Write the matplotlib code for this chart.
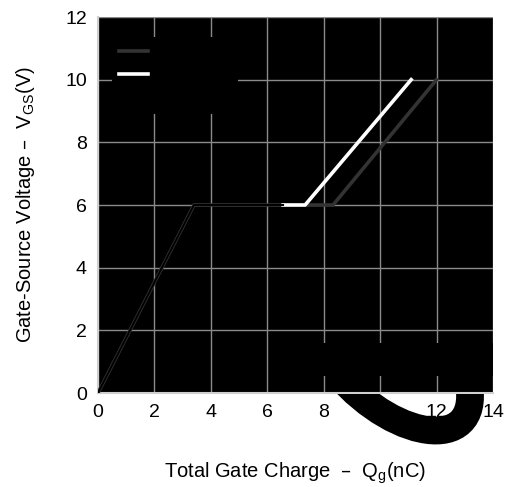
import matplotlib
matplotlib.use("Agg")
import matplotlib.pyplot as plt
from matplotlib.path import Path
from matplotlib.patches import PathPatch, Rectangle

plt.rcParams['font.family'] = ['Liberation Sans', 'DejaVu Sans']

# Series (Qg in nC, Vgs in V)
qg_a = [0, 3.4, 8.33, 12.0]
vgs_a = [0, 6, 6, 10]
qg_b = [6.56, 7.34, 11.1]
vgs_b = [6, 6, 10]
qg_c = [0, 3.4, 6.56]
vgs_c = [0, 6, 6]
labels = ["VDS=30V", "VDS=20V", "VDS=10V"]

x_ticks = [0, 2, 4, 6, 8, 10, 12, 14]
y_ticks = [0, 2, 4, 6, 8, 10, 12]

fig = plt.figure(figsize=(5.10, 4.87), dpi=100)
ax_bottom = 1 - 393/487
ax = fig.add_axes([98/510, ax_bottom, 395/510, 376/487])
ax.set_facecolor('black')
ax.set_xlim(0, 14)
ax.set_ylim(0, 12)
ax.set_xticks(x_ticks)
ax.set_yticks(y_ticks)
ax.grid(True, color='#8a8a8a', linewidth=1.0)
ax.set_axisbelow(True)
ax.tick_params(length=0, labelsize=14, pad=8)
for s in ['top', 'right']:
    ax.spines[s].set_visible(False)
for s in ['left', 'bottom']:
    ax.spines[s].set_color('#cfcfcf')
    ax.spines[s].set_linewidth(1.5)

ax.plot(qg_a, vgs_a, color='#333333', linewidth=2.6, label=labels[0], zorder=3)
ax.plot(qg_b, vgs_b, color='white', linewidth=2.6, label=labels[1], zorder=4)
ax.plot(qg_c, vgs_c, color='black', linewidth=1.4, label=labels[2], zorder=5)

leg = ax.legend(loc='upper left', bbox_to_anchor=(0.035, 0.947), borderaxespad=0,
                fontsize=11.5, facecolor='black', edgecolor='black', framealpha=1.0,
                handlelength=1.8, labelcolor='black', borderpad=0.45,
                labelspacing=0.55)
leg.get_frame().set_linewidth(0)

ax.add_patch(Rectangle((0.57, 0.045), 0.43, 0.088, transform=ax.transAxes,
                       facecolor='black', edgecolor='none', zorder=2.5))

# thick black curved stroke below the x axis, drawn over the tick labels
verts = [(8.5, 0.6), (10.6, -1.6), (13.75, -1.95), (13.1, 0.5)]
path = Path(verts, [Path.MOVETO, Path.CURVE4, Path.CURVE4, Path.CURVE4])
blob = PathPatch(path, facecolor='none', edgecolor='black', linewidth=20,
                 transform=ax.transData, zorder=10, capstyle='butt')
fig.add_artist(blob)
clip_rect = Rectangle((0, 0), 1, ax_bottom - 0.002, transform=fig.transFigure)
blob.set_clip_path(clip_rect)

ax.set_xlabel('Total Gate Charge  –  Q$_{\\mathregular{g}}$(nC)', fontsize=14.5, labelpad=28)
ax.set_ylabel('Gate-Source Voltage –  V$_{\\mathregular{GS}}$(V)', fontsize=14.5, labelpad=20)

fig.savefig('out.png', dpi=100)
